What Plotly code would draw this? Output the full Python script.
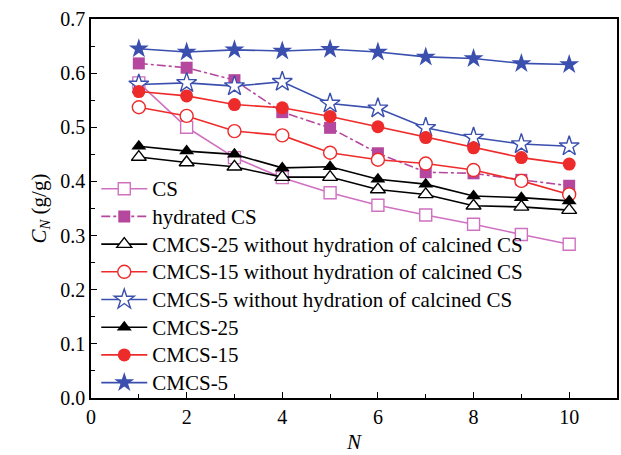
import plotly.graph_objects as go

N = [1, 2, 3, 4, 5, 6, 7, 8, 9, 10]

cs = [0.582, 0.500, 0.444, 0.407, 0.379, 0.356, 0.338, 0.321, 0.302, 0.284]
hydrated_cs = [0.618, 0.610, 0.587, 0.528, 0.499, 0.452, 0.417, 0.415, 0.403, 0.392]
cmcs25_wo = [0.445, 0.435, 0.427, 0.408, 0.408, 0.385, 0.376, 0.355, 0.353, 0.347]
cmcs15_wo = [0.537, 0.521, 0.493, 0.485, 0.453, 0.440, 0.433, 0.421, 0.401, 0.376]
cmcs5_wo = [0.579, 0.582, 0.576, 0.584, 0.544, 0.535, 0.499, 0.481, 0.469, 0.465]
cmcs25 = [0.465, 0.456, 0.450, 0.425, 0.427, 0.404, 0.395, 0.373, 0.370, 0.364]
cmcs15 = [0.566, 0.558, 0.542, 0.536, 0.520, 0.501, 0.481, 0.462, 0.444, 0.432]
cmcs5 = [0.645, 0.639, 0.643, 0.641, 0.644, 0.639, 0.630, 0.627, 0.618, 0.616]

MAG = "#b5489e"
MAG_L = "#d070c0"
RED = "#ee2b2b"
BLUE = "#3a4fae"
BLACK = "#000000"
WHITE = "#ffffff"

series = [
    ("CS", cs, MAG_L, "solid", "square-open", 12, MAG_L),
    ("hydrated CS", hydrated_cs, MAG, "dashdot", "square", 12, MAG),
    ("CMCS-25 without hydration of calcined CS", cmcs25_wo, BLACK, "solid", "triangle-up-open", 13, BLACK),
    ("CMCS-15 without hydration of calcined CS", cmcs15_wo, RED, "solid", "circle-open", 13, RED),
    ("CMCS-5 without hydration of calcined CS", cmcs5_wo, BLUE, "solid", "star-open", 15, BLUE),
    ("CMCS-25", cmcs25, BLACK, "solid", "triangle-up", 13, BLACK),
    ("CMCS-15", cmcs15, RED, "solid", "circle", 13, RED),
    ("CMCS-5", cmcs5, BLUE, "solid", "star", 15, BLUE),
]

fig = go.Figure()
for name, ys, col, dash, sym, size, mcol in series:
    filled = not sym.endswith("-open")
    fig.add_trace(go.Scatter(
        x=N, y=ys, name='<span style="font-size:21px">' + name + '</span>',
        mode="lines+markers",
        line=dict(color=col, width=1.6, dash=dash),
        marker=dict(symbol=sym.replace("-open", ""), size=size,
                    color=mcol if filled else WHITE,
                    line=dict(color=mcol, width=1.4 if not filled else 0)),
    ))

font = "Liberation Serif, Times New Roman, serif"
fig.update_layout(
    width=621, height=455,
    margin=dict(l=91, r=2, t=19, b=57),
    paper_bgcolor="white", plot_bgcolor="white",
    font=dict(family=font, size=20, color="black"),
    showlegend=True,
    legend=dict(x=0.01, y=0.602, xanchor="left", yanchor="top",
                bgcolor="rgba(0,0,0,0)", font=dict(family=font, size=19),
                itemwidth=46, tracegroupgap=0),
    xaxis=dict(range=[0, 11], tickvals=[0, 2, 4, 6, 8, 10], ticks="inside", ticklen=6,
               tickcolor="black", showline=True, linecolor="black", linewidth=1.5,
               mirror=True, showgrid=False, zeroline=False,
               minor=dict(tickvals=[1, 3, 5, 7, 9], ticks="inside", ticklen=4, tickcolor="black"),
               title=dict(text="<i>N</i>", font=dict(size=21), standoff=8),
               tickfont=dict(size=20)),
    yaxis=dict(range=[0, 0.7], dtick=0.1, tickformat=".1f", ticks="inside", ticklen=6,
               tickcolor="black", showline=True, linecolor="black", linewidth=1.5,
               mirror=True, showgrid=False, zeroline=False,
               minor=dict(dtick=0.05, ticks="inside", ticklen=4, tickcolor="black"),
               title=dict(text="<i>C</i><sub><i>N</i></sub> (g/g)", font=dict(size=21), standoff=8),
               tickfont=dict(size=20)),
)

fig.write_html("out.html")
